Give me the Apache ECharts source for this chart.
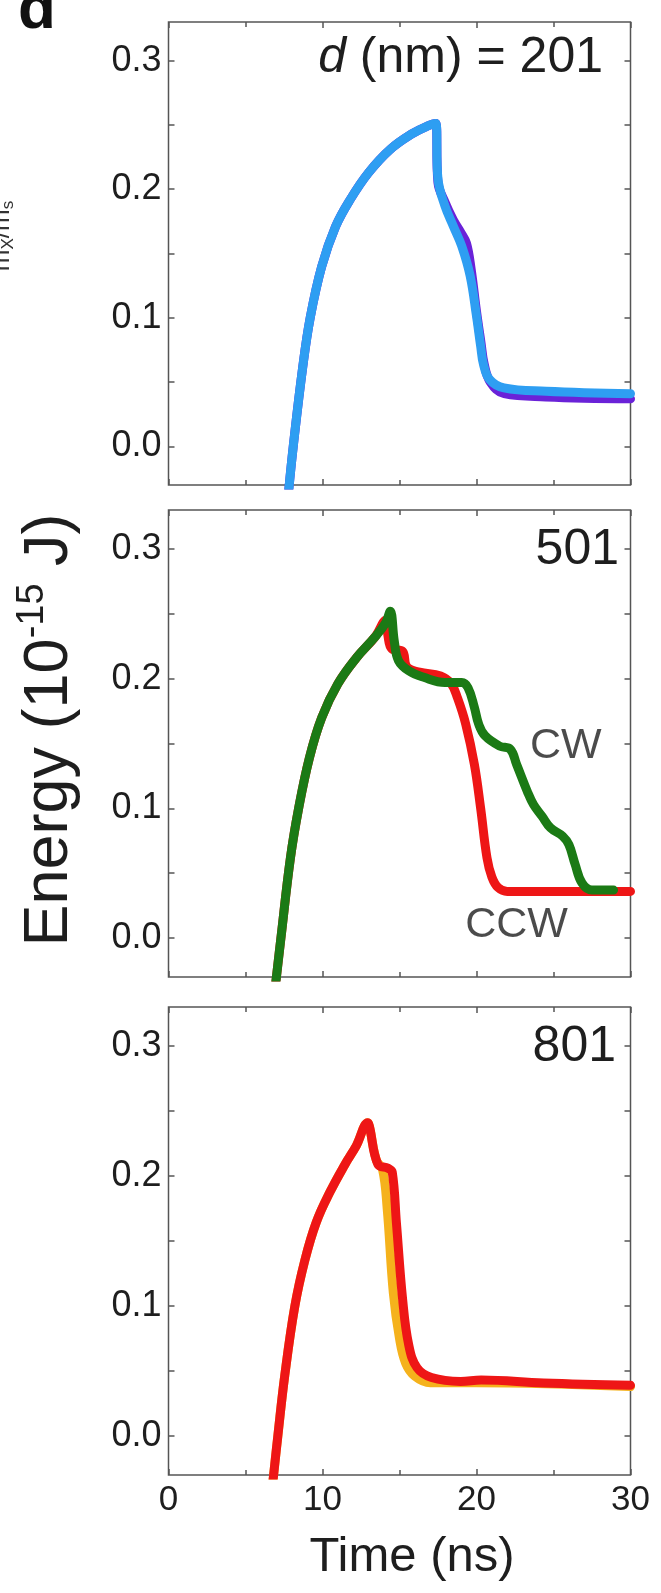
<!DOCTYPE html>
<html>
<head>
<meta charset="utf-8">
<script src="https://cdn.jsdelivr.net/npm/echarts@6/dist/echarts.min.js"></script>
<style>
  html, body { margin: 0; padding: 0; background: #fff; }
  #chart { width: 661px; height: 1593px; }
</style>
</head>
<body>
<div id="chart"></div>
<script>
// ---------------- data ----------------
const timeTicks = [0, 10, 20, 30];
const energyTicks = [0.0, 0.1, 0.2, 0.3];
const energyMinorTicks = [0.0, 0.05, 0.1, 0.15, 0.2, 0.25, 0.3];
const panelLabels = ['201', '501', '801'];

// d = 201 nm
const t201Purple = [7.8, 8.1, 8.72, 9.2, 9.95, 10.85, 11.8, 13.0, 14.4, 15.8, 16.8, 17.35, 17.5, 17.95, 18.5, 19.0, 19.35, 19.65, 20.0, 20.3, 20.5, 20.9, 21.8, 24.5, 30];
const e201Purple = [-0.035, 0.0, 0.062, 0.1, 0.14, 0.171, 0.192, 0.213, 0.231, 0.243, 0.249, 0.251, 0.205, 0.19, 0.176, 0.166, 0.158, 0.138, 0.105, 0.08, 0.064, 0.05, 0.041, 0.0385, 0.037];
const t201Blue = [7.8, 8.1, 8.72, 9.2, 9.95, 10.85, 11.8, 13.0, 14.4, 15.8, 16.8, 17.35, 17.5, 17.95, 18.49, 19.04, 19.59, 20.0, 20.27, 20.45, 20.85, 21.78, 24.52, 30];
const e201Blue = [-0.035, 0.0, 0.062, 0.1, 0.14, 0.171, 0.192, 0.213, 0.231, 0.243, 0.249, 0.251, 0.2078, 0.187, 0.1714, 0.1558, 0.1325, 0.1013, 0.078, 0.064, 0.052, 0.0455, 0.0429, 0.041];

// d = 501 nm
const t501CCW = [6.95, 7.3, 7.92, 8.45, 9.15, 9.95, 11.0, 12.2, 13.4, 14.1, 14.25, 14.5, 15.2, 15.48, 16.3, 17.67, 18.36, 18.77, 19.3, 19.86, 20.27, 20.68, 21.0, 21.4, 22.0, 30];
const e501CCW = [-0.036, 0.0, 0.062, 0.1, 0.139, 0.17, 0.196, 0.216, 0.232, 0.245, 0.233, 0.223, 0.221, 0.209, 0.205, 0.202, 0.196, 0.185, 0.165, 0.134, 0.1, 0.062, 0.047, 0.039, 0.036, 0.036];
const t501CW = [6.95, 7.3, 7.92, 8.45, 9.15, 9.95, 11.0, 12.2, 13.4, 14.1, 14.4, 14.66, 14.93, 15.6, 16.58, 17.95, 19.04, 19.45, 19.86, 20.14, 20.55, 21.5, 22.2, 22.6, 23.3, 23.7, 24.25, 24.8, 25.6, 26.0, 26.4, 26.85, 27.5, 28.9];
const e501CW = [-0.036, 0.0, 0.062, 0.1, 0.139, 0.17, 0.196, 0.216, 0.232, 0.243, 0.252, 0.229, 0.214, 0.206, 0.201, 0.197, 0.197, 0.193, 0.178, 0.165, 0.156, 0.148, 0.1455, 0.134, 0.113, 0.103, 0.094, 0.085, 0.0785, 0.072, 0.057, 0.0425, 0.037, 0.037];

// d = 801 nm
const t801Orange = [6.78, 7.1, 7.55, 8.2, 8.85, 9.6, 10.5, 11.45, 12.2, 12.95, 13.05, 13.5, 13.9, 14.2, 14.6, 15.0, 15.4, 16.0, 17.0, 20.0, 30];
const e801Orange = [-0.035, 0.0, 0.0466, 0.0996, 0.135, 0.1645, 0.188, 0.2087, 0.2234, 0.241, 0.238, 0.212, 0.205, 0.175, 0.11, 0.075, 0.056, 0.046, 0.041, 0.041, 0.038];
const t801Red = [6.78, 7.1, 7.55, 8.2, 8.85, 9.6, 10.5, 11.45, 12.2, 12.95, 13.05, 13.6, 14.26, 14.53, 14.8, 15.2, 15.6, 16.14, 17.08, 18.97, 20.3, 24.35, 30];
const e801Red = [-0.035, 0.0, 0.0466, 0.0996, 0.135, 0.1645, 0.188, 0.2087, 0.2234, 0.241, 0.238, 0.209, 0.206, 0.203, 0.164, 0.1055, 0.07, 0.0525, 0.045, 0.042, 0.043, 0.0407, 0.039];

// annotations in the 501 panel (time, energy, text)
const curveLabels501 = [[25.8, 0.148, 'CW'], [22.6, 0.010, 'CCW']];

// ---------------- layout ----------------
const FONT = '"Liberation Sans", Arial, Helvetica, sans-serif';
const FRAME = '#555555';
const TEXT = '#1e1e1e';
const grids = [
  { left: 168.5, top: 22, width: 462, height: 463 },
  { left: 168.5, top: 510, width: 462, height: 467 },
  { left: 168.5, top: 1007, width: 462, height: 468 }
];

const zip = (t, e) => t.map((v, i) => [v, e[i]]);

const xAxes = [], yAxes = [];
grids.forEach((g, gi) => {
  const isLast = gi === grids.length - 1;
  ['bottom', 'top'].forEach(pos => {
    xAxes.push({
      type: 'value', gridIndex: gi, position: pos, min: 0, max: 30, interval: 10,
      axisLine: { show: false, onZero: false },
      axisTick: { show: true, inside: true, length: 6, lineStyle: { color: FRAME, width: 1.5 } },
      minorTick: { show: true, splitNumber: 2, length: 5, lineStyle: { color: FRAME, width: 1.5 } },
      splitLine: { show: false },
      axisLabel: {
        show: isLast && pos === 'bottom', margin: 8,
        fontSize: 35, fontFamily: FONT, color: TEXT,
        customValues: timeTicks
      }
    });
  });
  ['left', 'right'].forEach(pos => {
    yAxes.push({
      type: 'value', gridIndex: gi, position: pos, min: -0.03, max: 0.33,
      axisLine: { show: false, onZero: false },
      axisTick: { show: true, inside: true, length: 6, customValues: energyMinorTicks, lineStyle: { color: FRAME, width: 1.5 } },
      splitLine: { show: false },
      axisLabel: {
        show: pos === 'left', margin: 7, customValues: energyTicks,
        fontSize: 36, fontFamily: FONT, color: TEXT,
        formatter: v => v.toFixed(1)
      }
    });
  });
});

function lineSeries(name, gi, t, e, color, z) {
  return {
    name, type: 'line', xAxisIndex: gi * 2, yAxisIndex: gi * 2,
    data: zip(t, e), showSymbol: false, symbol: 'none',
    smooth: 0.4, clip: true, z: z,
    lineStyle: { color, width: 9, cap: 'round', join: 'round' },
    silent: true, animation: false
  };
}

const series = [
  lineSeries('201 purple', 0, t201Purple, e201Purple, '#6a22d8', 2),
  lineSeries('201 blue', 0, t201Blue, e201Blue, '#2e9ef2', 3),
  lineSeries('CCW', 1, t501CCW, e501CCW, '#ee1616', 2),
  lineSeries('CW', 1, t501CW, e501CW, '#1b7a15', 3),
  lineSeries('801 orange', 2, t801Orange, e801Orange, '#f5b21c', 2),
  lineSeries('801 red', 2, t801Red, e801Red, '#ee1616', 3),
  {
    type: 'scatter', xAxisIndex: 2, yAxisIndex: 2, symbolSize: 1,
    itemStyle: { color: 'rgba(0,0,0,0)' }, silent: true, animation: false,
    data: curveLabels501,
    label: {
      show: true, position: 'inside', formatter: p => p.value[2],
      fontSize: 43, fontFamily: FONT, color: TEXT
    }
  }
];

const chart = echarts.init(document.getElementById('chart'), null, { renderer: 'canvas' });

const panelTextStyle = (txt) => ({
  text: txt, fontSize: 50, fontFamily: FONT, fill: TEXT,
  align: 'right', verticalAlign: 'middle',
  rich: { i: { fontStyle: 'italic', fontSize: 50, fontFamily: FONT, fill: TEXT } }
});

const option = {
  backgroundColor: '#ffffff',
  animation: false,
  grid: grids.map(g => Object.assign({ show: true, borderColor: FRAME, borderWidth: 1.5, backgroundColor: 'transparent', containLabel: false }, g)),
  xAxis: xAxes,
  yAxis: yAxes,
  series: series,
  graphic: [
    { type: 'text', x: 603, y: 58, style: panelTextStyle('{i|d} (nm) = ' + panelLabels[0]), z: 10 },
    { type: 'text', x: 619, y: 550, style: panelTextStyle(panelLabels[1]), z: 10 },
    { type: 'text', x: 616, y: 1047, style: panelTextStyle(panelLabels[2]), z: 10 },
    {
      type: 'text', x: 50, y: 730, rotation: Math.PI / 2,
      style: {
        text: '{a|Energy (10}{s|-15}{a| J)}', align: 'center', verticalAlign: 'middle',
        fill: TEXT,
        rich: {
          a: { fontSize: 63, fontFamily: FONT, fill: TEXT, lineHeight: 72 },
          s: { fontSize: 38, fontFamily: FONT, fill: TEXT, verticalAlign: 'top', lineHeight: 72 }
        }
      }
    },
    {
      type: 'text', x: 412, y: 1557,
      style: { text: 'Time (ns)', fontSize: 49, fontFamily: FONT, fill: TEXT, align: 'center', verticalAlign: 'middle' }
    },
    {
      type: 'text', x: 18, y: 11,
      style: { text: 'd', fontSize: 62, fontWeight: 'bold', fontFamily: FONT, fill: '#111', align: 'left', verticalAlign: 'middle' }
    },
    {
      type: 'text', x: 2, y: 236, rotation: Math.PI / 2,
      style: {
        text: '{a|m}{b|X}{a|/m}{b|s}', align: 'center', verticalAlign: 'middle', fill: '#333',
        rich: {
          a: { fontSize: 26, fontFamily: FONT, fill: '#333', lineHeight: 30 },
          b: { fontSize: 17, fontFamily: FONT, fill: '#333', verticalAlign: 'bottom', lineHeight: 30 }
        }
      }
    }
  ]
};
chart.setOption(option);
</script>
</body>
</html>
